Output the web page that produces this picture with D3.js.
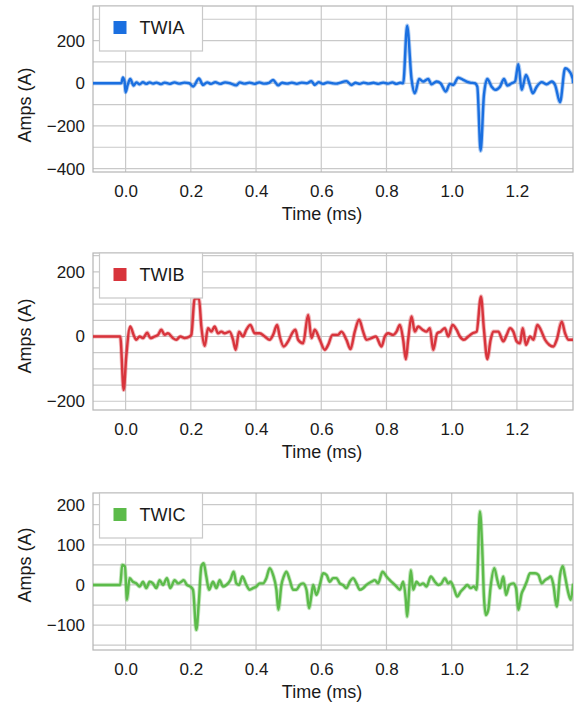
<!DOCTYPE html>
<html>
<head>
<meta charset="utf-8">
<script src="https://cdn.jsdelivr.net/npm/d3@7"></script>
<style>
  html, body { margin: 0; padding: 0; background: #fff; }
  svg { display: block; font-family: "Liberation Sans", Arial, sans-serif; }
</style>
</head>
<body>
<svg id="chart" width="582" height="711"></svg>
<script>
// ---------- DATA ----------
const seriesNames = ["TWIA", "TWIB", "TWIC"];
const xTicks = [0.0, 0.2, 0.4, 0.6, 0.8, 1.0, 1.2];
const yTicksA = [-400, -200, 0, 200];
const yTicksB = [-200, 0, 200];
const yTicksC = [-100, 0, 100, 200];

const twiaTime = [-0.100,-0.0134,-0.0083,-0.0030,0.0,0.006,0.0142,0.0245,0.033,0.043,0.053,0.063,0.074,0.084,0.094,0.109,0.120,0.135,0.150,0.165,0.180,0.195,0.207,0.225,0.2373,0.250,0.262,0.275,0.290,0.305,0.320,0.3396,0.350,0.365,0.380,0.395,0.410,0.425,0.440,0.4522,0.4676,0.480,0.495,0.510,0.525,0.540,0.555,0.570,0.5802,0.592,0.605,0.620,0.6344,0.6465,0.6567,0.6772,0.6925,0.705,0.718,0.730,0.745,0.760,0.775,0.790,0.805,0.818,0.830,0.842,0.8512,0.8634,0.8768,0.8870,0.9003,0.9125,0.9279,0.9381,0.9535,0.9658,0.9821,0.9944,1.0047,1.0200,1.0354,1.0457,1.0559,1.0713,1.0785,1.0887,1.0989,1.1092,1.1225,1.1327,1.1481,1.1604,1.1706,1.1839,1.1942,1.2044,1.2146,1.2280,1.2402,1.2484,1.2607,1.2761,1.2914,1.3068,1.3170,1.3323,1.3477,1.3580,1.3713,1.3720];
const twiaAmps = [0,0,27,5,-42,-10,20,-11,4,-5,5,-3,4,-2,3,-4,3,-3,4,-2,3,0,-15,22,-8,4,-3,5,-3,4,0,-10,4,-2,3,-3,4,-2,2,15,-10,2,-2,3,-3,3,0,10,-8,5,-3,4,0,-2,2,10,-8,2,-3,3,-2,2,-3,3,-2,4,-3,2,0,270,20,-47,20,8,20,-5,8,0,-39,-3,-8,26,16,8,3,0,-16,-317,-55,20,-16,-31,-16,20,-11,0,8,89,-31,39,-11,-47,-16,5,-5,8,-8,-89,70,62,20,5];

const twibTime = [-0.100,-0.0165,-0.006,0.0019,0.0142,0.0245,0.0326,0.0429,0.0532,0.0664,0.0756,0.0889,0.0992,0.1094,0.1196,0.1299,0.1452,0.1555,0.1678,0.1810,0.1964,0.2015,0.2117,0.2250,0.2322,0.2424,0.2527,0.2629,0.2731,0.2833,0.2936,0.3038,0.3192,0.3294,0.3376,0.3478,0.3600,0.3703,0.3826,0.3959,0.4112,0.4266,0.4419,0.4522,0.4645,0.4727,0.4850,0.4983,0.5136,0.5208,0.5290,0.5443,0.5597,0.5700,0.5802,0.5955,0.6109,0.6211,0.6344,0.6516,0.6618,0.6772,0.6895,0.7028,0.7161,0.7284,0.7386,0.7540,0.7673,0.7847,0.7949,0.8051,0.8205,0.8308,0.8410,0.8512,0.8593,0.8665,0.8768,0.8870,0.8972,0.9105,0.9228,0.9330,0.9432,0.9555,0.9658,0.9791,0.9893,1.0026,1.0149,1.0252,1.0375,1.0508,1.0641,1.0764,1.0897,1.0989,1.1092,1.1194,1.1276,1.1430,1.1583,1.1686,1.1788,1.1890,1.1993,1.2095,1.2177,1.2280,1.2402,1.2505,1.2628,1.2730,1.2863,1.2996,1.3119,1.3221,1.3375,1.3477,1.3580,1.3720];
const twibAmps = [0,0,-165,-62,31,5,-10,0,-5,12,-5,0,5,21,5,10,-5,-10,0,-5,0,5,117,117,31,-29,26,15,31,10,15,10,15,-10,-41,15,0,21,36,10,10,0,-10,5,36,0,-31,-15,15,21,-10,-21,67,-5,21,-10,-41,-26,5,5,15,-10,-39,15,52,15,-10,-5,0,-31,0,10,5,15,36,-10,-70,-10,62,15,31,21,15,26,-41,10,15,26,0,36,21,0,-10,0,10,15,124,21,-70,-10,15,15,-15,5,26,15,-15,-21,26,-26,0,-10,36,21,-10,-26,-31,-10,46,10,-10,-10];

const twicTime = [-0.100,-0.0165,-0.0104,-0.0021,0.0040,0.0122,0.0224,0.0326,0.0429,0.0532,0.0634,0.0736,0.0838,0.0940,0.1043,0.1145,0.1268,0.1370,0.1503,0.1606,0.1708,0.1780,0.1882,0.1984,0.2066,0.2169,0.2250,0.2322,0.2393,0.2475,0.2557,0.2680,0.2782,0.2885,0.2987,0.3089,0.3212,0.3314,0.3396,0.3478,0.3580,0.3703,0.3805,0.3908,0.4010,0.4112,0.4215,0.4317,0.4419,0.4522,0.4624,0.4686,0.4778,0.4850,0.4932,0.5034,0.5136,0.5239,0.5341,0.5443,0.5546,0.5628,0.5700,0.5751,0.5853,0.5955,0.6058,0.6160,0.6262,0.6364,0.6465,0.6567,0.6669,0.6772,0.6874,0.6977,0.7079,0.7181,0.7284,0.7386,0.7540,0.7642,0.7744,0.7877,0.8000,0.8102,0.8205,0.8308,0.8410,0.8512,0.8593,0.8634,0.8696,0.8747,0.8819,0.8921,0.9023,0.9125,0.9228,0.9361,0.9484,0.9586,0.9688,0.9791,0.9893,0.9965,1.0067,1.0170,1.0272,1.0375,1.0477,1.0580,1.0682,1.0764,1.0866,1.0938,1.0989,1.1051,1.1122,1.1194,1.1307,1.1399,1.1481,1.1583,1.1665,1.1768,1.1890,1.1973,1.2044,1.2146,1.2218,1.2300,1.2402,1.2556,1.2658,1.2761,1.2863,1.2965,1.3037,1.3119,1.3221,1.3323,1.3405,1.3477,1.3580,1.3651,1.3720];
const twicAmps = [0,0,50,46,-37,17,8,4,-4,8,-8,8,4,-8,12,0,17,-8,12,4,8,12,0,-4,-12,-112,-37,46,54,21,-12,8,-8,12,-4,0,12,33,4,0,21,0,-12,-8,-4,4,4,17,42,25,-12,-62,0,21,33,12,-12,-12,0,4,-12,-58,-25,0,-25,0,29,25,8,17,17,4,0,-8,8,17,4,-12,-8,0,8,12,4,33,21,12,4,-4,-12,8,-37,-79,-12,37,-12,8,0,4,-4,21,8,0,4,17,4,8,-8,-29,-17,-8,0,-8,-4,-12,183,87,-29,-75,-62,-4,42,12,-8,21,-25,0,4,-8,-62,-21,-8,8,29,29,25,4,12,17,21,0,-54,25,47,21,-21,-37,0];

// ---------- LAYOUT ----------
const colors = ["#1a6fe0", "#d8343c", "#5cbb4a"];
const panels = [
  { name: seriesNames[0], t: twiaTime, v: twiaAmps, top: 6,   bottom: 172, yDomain: [-416, 362], ticks: yTicksA, gridStep: 100, titleY: 105 },
  { name: seriesNames[1], t: twibTime, v: twibAmps, top: 253, bottom: 410, yDomain: [-227, 258], ticks: yTicksB, gridStep: 50,  titleY: 336 },
  { name: seriesNames[2], t: twicTime, v: twicAmps, top: 493, bottom: 650, yDomain: [-162, 229], ticks: yTicksC, gridStep: 50,  titleY: 565 }
];
const left = 93, right = 573;
const svg = d3.select("#chart");
const x = d3.scaleLinear().domain([-0.1, 1.372]).range([left, right]);

panels.forEach((p, i) => {
  const y = d3.scaleLinear().domain(p.yDomain).range([p.bottom, p.top]);
  const g = svg.append("g");

  const clipId = "clip" + i;
  svg.append("clipPath").attr("id", clipId)
    .append("rect").attr("x", left).attr("y", p.top).attr("width", right - left).attr("height", p.bottom - p.top);

  // horizontal grid
  const gridVals = d3.range(Math.ceil(p.yDomain[0] / p.gridStep) * p.gridStep, p.yDomain[1], p.gridStep);
  g.append("g").selectAll("line").data(gridVals).join("line")
    .attr("x1", left).attr("x2", right)
    .attr("y1", d => y(d)).attr("y2", d => y(d))
    .attr("stroke", "#c9c9c9").attr("stroke-width", 1.2);

  // vertical grid
  g.append("g").selectAll("line").data(xTicks).join("line")
    .attr("x1", d => x(d)).attr("x2", d => x(d))
    .attr("y1", p.top).attr("y2", p.bottom)
    .attr("stroke", "#c9c9c9").attr("stroke-width", 1.2);

  // frame
  g.append("rect").attr("x", left).attr("y", p.top)
    .attr("width", right - left).attr("height", p.bottom - p.top)
    .attr("fill", "none").attr("stroke", "#b5b5b5").attr("stroke-width", 1.2);

  // y tick labels
  const yAxis = d3.axisLeft(y).tickValues(p.ticks).tickSize(0).tickPadding(8).tickFormat(d3.format("d"));
  const ya = g.append("g").attr("transform", `translate(${left},0)`).call(yAxis);
  ya.select(".domain").remove();
  ya.selectAll("text").attr("font-size", 17).attr("fill", "#1a1a1a")
    .attr("font-family", "'Liberation Sans', Arial, sans-serif");

  // x tick labels
  const xAxis = d3.axisBottom(x).tickValues(xTicks).tickSize(0).tickPadding(0).tickFormat(d3.format(".1f"));
  const xa = g.append("g").attr("transform", `translate(0,${p.bottom})`).call(xAxis);
  xa.select(".domain").remove();
  xa.selectAll("text").attr("font-size", 17).attr("fill", "#1a1a1a")
    .attr("font-family", "'Liberation Sans', Arial, sans-serif")
    .attr("dy", null).attr("y", 25);

  // line
  const data = p.t.map((t, k) => [t, p.v[k]]);
  const lineGen = d3.line().curve(d3.curveMonotoneX).x(d => x(d[0])).y(d => y(d[1]));
  g.append("path").datum(data)
    .attr("clip-path", `url(#${clipId})`)
    .attr("fill", "none").attr("stroke", colors[i]).attr("stroke-opacity", 0.35).attr("stroke-width", 4.2)
    .attr("stroke-linejoin", "round").attr("stroke-linecap", "round")
    .attr("d", lineGen);
  g.append("path").datum(data)
    .attr("clip-path", `url(#${clipId})`)
    .attr("fill", "none").attr("stroke", colors[i]).attr("stroke-width", 2.4)
    .attr("stroke-linejoin", "round").attr("stroke-linecap", "round")
    .attr("d", lineGen);

  // legend
  const lg = g.append("g").attr("transform", `translate(99.5,${p.top})`);
  lg.append("rect").attr("width", 103).attr("height", 45)
    .attr("fill", "#fff").attr("stroke", "#c9c9c9").attr("stroke-width", 1.2);
  lg.append("rect").attr("x", 14).attr("y", 15).attr("width", 13).attr("height", 13).attr("fill", colors[i]);
  lg.append("text").attr("x", 40).attr("y", 22).attr("dy", "0.36em")
    .attr("font-size", 18).attr("fill", "#1a1a1a").text(p.name);

  // axis titles
  g.append("text").attr("x", 322).attr("y", p.bottom + 48)
    .attr("text-anchor", "middle").attr("font-size", 18).attr("fill", "#1a1a1a").text("Time (ms)");
  g.append("text").attr("transform", `translate(25,${p.titleY}) rotate(-90)`)
    .attr("dy", "0.35em").attr("text-anchor", "middle").attr("font-size", 18).attr("fill", "#1a1a1a").text("Amps (A)");
});
</script>
</body>
</html>
